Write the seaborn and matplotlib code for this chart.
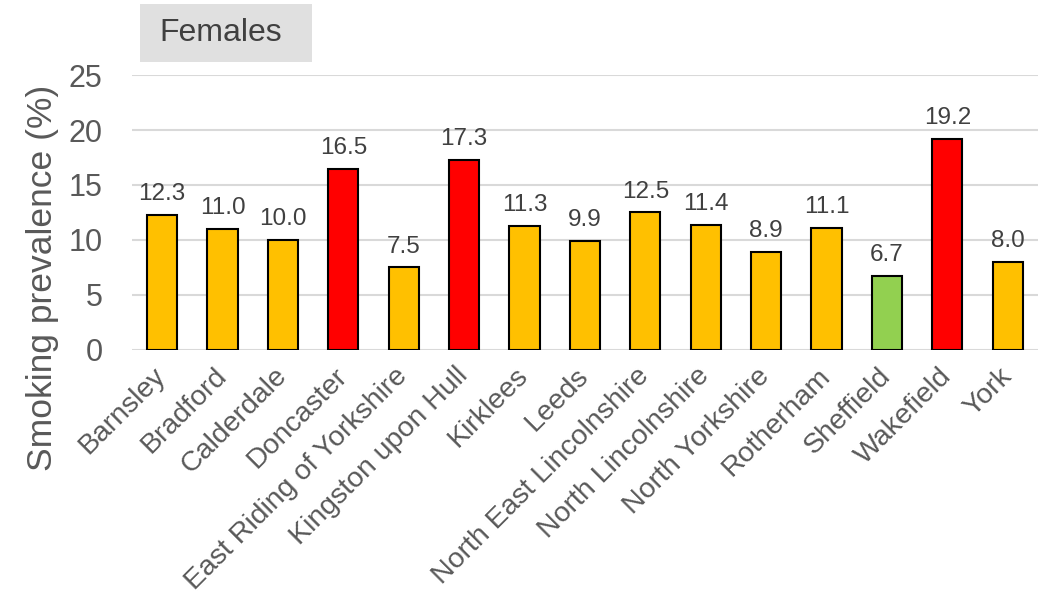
import matplotlib
matplotlib.use("Agg")
import matplotlib.pyplot as plt
from matplotlib.patches import Rectangle
import seaborn as sns
import pandas as pd

areas = ["Barnsley", "Bradford", "Calderdale", "Doncaster", "East Riding of Yorkshire",
         "Kingston upon Hull", "Kirklees", "Leeds", "North East Lincolnshire",
         "North Lincolnshire", "North Yorkshire", "Rotherham", "Sheffield",
         "Wakefield", "York"]
prevalence = [12.3, 11.0, 10.0, 16.5, 7.5, 17.3, 11.3, 9.9, 12.5, 11.4, 8.9, 11.1, 6.7, 19.2, 8.0]
rating = ["mid", "mid", "mid", "high", "mid", "high", "mid", "mid", "mid", "mid",
          "mid", "mid", "low", "high", "mid"]
rating_colours = {"mid": "#FFC000", "high": "#FF0000", "low": "#92D050"}
y_ticks = [0, 5, 10, 15, 20, 25]

df = pd.DataFrame({"area": areas, "prevalence": prevalence, "rating": rating})

sns.set_theme(style="white")
plt.rcParams["font.family"] = ["Liberation Sans", "DejaVu Sans"]

text_grey = "#595959"
fig = plt.figure(figsize=(10.38, 5.96), dpi=100)
ax = fig.add_axes([0.127, 0.413, 0.873, 0.461])

sns.barplot(data=df, x="area", y="prevalence", hue="rating", palette=rating_colours,
            dodge=False, width=0.5, saturation=1, edgecolor="black", linewidth=1.5,
            legend=False, ax=ax, zorder=3)

ax.set_ylim(0, 25)
ax.set_xlim(-0.5, len(areas) - 0.5)
ax.set_yticks(y_ticks)
ax.yaxis.grid(True, color="#D9D9D9", linewidth=1.5, zorder=0)
ax.set_axisbelow(True)
for side in ["left", "right", "top", "bottom"]:
    ax.spines[side].set_visible(False)
ax.tick_params(axis="both", length=0)
ax.tick_params(axis="y", labelsize=22, labelcolor=text_grey, pad=21)
ax.tick_params(axis="x", labelsize=20.5, labelcolor=text_grey, pad=16)
plt.setp(ax.get_xticklabels(), rotation=45, ha="right", va="center", rotation_mode="anchor")
ax.set_xlabel("")
ax.set_ylabel("")
fig.text(0.041, 0.533, "Smoking prevalence (%)", rotation=90, fontsize=25.5,
         color=text_grey, ha="center", va="center")

for container in ax.containers:
    ax.bar_label(container, fmt="%.1f", padding=7, fontsize=17.5, color="#404040")

fig.patches.append(Rectangle((0.135, 0.896), 0.166, 0.097, transform=fig.transFigure,
                             facecolor="#E0E0E0", edgecolor="none"))
fig.text(0.213, 0.945, "Females", fontsize=23, color="#404040", ha="center", va="center")

fig.savefig("out.png", dpi=100)
